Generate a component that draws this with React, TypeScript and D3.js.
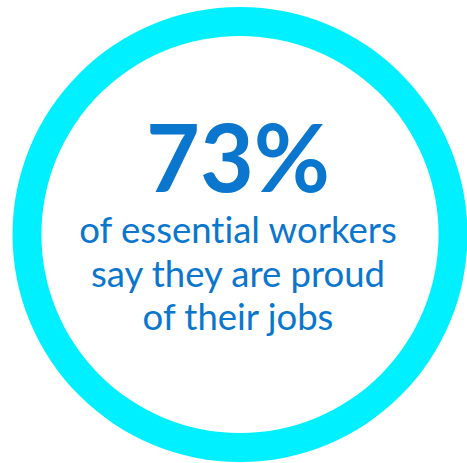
import React, { useEffect, useRef } from "react";
import * as d3 from "d3";

const stat = ["73%"];
const captionLines = ["of essential workers", "say they are proud", "of their jobs"];
const ringValue = [100];

export default function App() {
  const ref = useRef<SVGSVGElement | null>(null);
  useEffect(() => {
    const svg = d3.select(ref.current);
    svg.selectAll("*").remove();
    const cx = 240, cy = 234.5;
    const arc = d3.arc<any>().innerRadius(198.5).outerRadius(227.5).startAngle(0).endAngle((d: number) => (d / 100) * 2 * Math.PI);
    svg.append("g").attr("transform", `translate(${cx},${cy})`)
      .selectAll("path").data(ringValue).join("path")
      .attr("d", (d: number) => arc(d) as string)
      .attr("fill", "#00F0FF");
    const tx = 238;
    svg.append("g").selectAll("text").data(stat).join("text")
      .attr("x", tx).attr("y", 192)
      .attr("text-anchor", "middle")
      .attr("font-family", "Lato")
      .attr("font-weight", 700)
      .attr("font-size", 93)
      .attr("fill", "#0A76CE")
      .text((d: string) => d);
    const y = d3.scalePoint<string>().domain(captionLines).range([243, 330]);
    svg.append("g").selectAll("text").data(captionLines).join("text")
      .attr("x", tx).attr("y", (d: string) => y(d) as number)
      .attr("text-anchor", "middle")
      .attr("font-family", "Lato")
      .attr("font-weight", 400)
      .attr("font-size", 36.5)
      .style("font-variant-ligatures", "none")
      .style("font-feature-settings", "'liga' 0, 'clig' 0")
      .attr("fill", "#0A76CE")
      .text((d: string) => d);
  }, []);
  return (
    <svg ref={ref} width={467} height={463} style={{ position: "absolute", left: 0, top: 0, background: "#fff" }} />
  );
}
